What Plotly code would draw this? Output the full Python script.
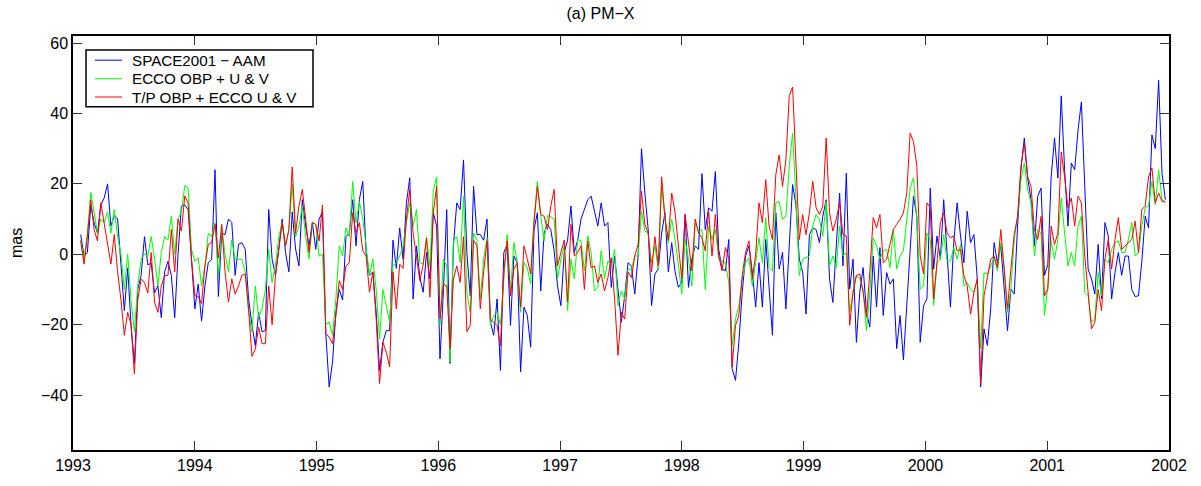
import plotly.graph_objects as go
import numpy as np

# ---- data (mas), 10-day samples from early 1993 to end of 2001 ----
start_year = 1993.063
end_year = 2001.97

space2001_aam = [
    5.6, -0.5, 0.5, 14, 9, 6, 14, 16, 20, 8, 11, 10, -3, -16, -4, -20, -31, -10, -6, 5, -3, -2.5, -11, -9, -18, -5, -2, -6, -18,
    0, 13.7, 14, 12.7, -1, -15.5, -8.5, -19, -9, -2.4, -1.5, 24, -12, 6, 5.6, 10, 9, -6, 2.8, 3.3, 1.4, -12.7, -20, -26, -16.5, -22, -21.7, 12.7, -1.4, -6, 1.5, 10, 0.5, -5, 12, 1.5, -3.3, 15.5, 8,
    2.4, 9, 1.4, 10, 12, -22.6, -37.7, -30.6, -16.5, -10, -13, 5, 6, 15.5, 2.4, 15.5, 20.7, 0.5, -6, -5, -16.5, -33, -25, -21.7, -21.7, 4, -4, 7.5, -1.4, 14.6, 21.7, -12.7,
    2.4, -6.6, -10.8, 0.5, -7, 11.8, 8, -29.7, -10.8, 12.7, -31, 2.4, 14.6, 12.7, 26.8, 0.5, -11.8, 19.3, 5.6, 5.6, 4, 10, -19.3, -23, -12.7, -33, 0.5, 2.8, -20.2, -0.5, -2.4, -33.4, -15, -17.4, -26.4, 7, 11.8, -10.4, 6, 8.5, 7, 1,
    -9, -14.6, 0.5, 4, 13.7, 0.5, 4, 10, 12.7, 15.5, 16.5, 11.8, 8, 14.6, 8, 9, -9.4, -0.5, -10.8, -19.3, -11.8, -2.4, -3.3, -11.3, -0.5, 30, 17.4, 7, -14.6, -5.6, -4.2, 6, 11.8, -5, 3.3, -5, -9.4,
    -8, 11.3, -9.4, -1.4, 2.4, 1.4, 22.9, 7, 13.2, 12.2, 23.5, 1.4, -4.2, -4.7, 4.2, -32.5, -35.8, -25, -10.8, -0.5, 2.4, -5, -15, -2.4, -15, 4.2, -10.8, -23, 11.8, -4.2, 0.5, -15.5, 2.4, 19.8, 14, -1.4, -5,
    -17, 5.6, 7.5, 7, 3.3, 10.8, 15.5, -7, -13.7, 2.4, 17.4, -3.3, 23, -9.9, -1.4, -25, -10.8, -3.8, -16.5, -20.7, -0.5, -15, 1.9, -17.4, -5.2, -8.5, -7, -26.8, -17.4, -30, -14.6, 1.4, 16.5, 10.8, -25, -14.6, -12.7,
    18.8, -4.2, 5.2, -1.4, 15.5, -1.4, -15, 3.3, 14.6, 5.2, -2.4, 12.2, 3.3, 5.6, -7, -37.7, -21.2, -25.9, -15.5, 3.3, -2.4, 2.4, -10.8, -21.7, -9.9, -11.3, 8, 24, 33, 21.7, 15.5, 2.4, 16.5, 18.8,
    -6, -3, 22, 33, 21.7, 45, 24, 8, 25.9, 24, 35.3, 43.3, 19.3, -4.2, -7, -11.3, 2.8, -12.7, 9, 5.2, -12.7, -5.2, 0.5, -6, -0.5, -0.5, -10, -12, -11.8, -2, 10.8, 7.5, 33.9, 30, 49.4, 23, 15.5,
]

ecco_obp_uv = [
    4, -1.4, 6, 17.6, 12, 6, 10, 9, 12, 6, 12.7, 5, 0, -10, 0, -13, -22, -9, -1.4, 0, -0.5, 5, -1.4, -9, 0.5, 5, 4, 10.8, 0,
    10, 12, 19.5, 18.8, 1.4, -2, -1, -9, -3.5, 6, 5, 9, -6, 7.5, 0, -5, 4, -1.4, -1.4, -1.4, -5, -16.5, -22, -9, -18, -15.5, -10, 1.4, -8, -3.3, 5, 9, 2.4, 7, 20, 5, 8, 13.7, 5,
    -1.4, 9, 8.5, -0.5, 0, -19.8, -19.3, -23, -12.7, 2.4, -0.5, 7.5, 5, 20.7, 9, 15, 10, 2.4, -6, -1.4, -10, -24, -10, -14.6, -19.3, -3.3, -2.4, -0.5, 2.4, 9, 14.6, 8,
    12.7, -2.4, -2.8, 4.7, -3.3, 17.9, 22, -20, -1.4, -3.3, -30.6, 3.8, 5, -2.4, 16.5, -10.8, -16.5, 6, 4, -12.7, -1.4, 4.7, -20, -17.4, -16.5, -20, -6, 5.6, -10.8, 3.3, -2.4, -16.5, -2.4, -3.8, -8.5, 10, 20.7, 10.8, 3.8, 11, 10.6, 10,
    -7, -1.4, 2.4, -16, -1.4, -7, 4.2, 3.8, -4.7, 5.2, 0.5, -10.4, -9.4, 1, -7, -1.9, -3.3, 1.4, -14.6, -10.4, -12.7, -4.2, -4.2, -0.5, -0.5, 12.2, 6.6, 6, -2.4, 2.4, -4.2, 19.3, 10, 3.3, 10, 4.2, -3,
    -11.3, 4.2, -1.4, -9, 9, 6.6, 7, -10, 8, 4.2, 7, -1.4, -1.9, -2.4, -8, -26, -18.4, -14.6, -7, -2.4, -1, -9, -2.4, 4.7, -2.4, 10.4, -3.8, -4.7, 14.6, 15, 9.9, 10.8, 25, 34.4, 16, -6, -1.4,
    -1, -0.5, 8, 11.3, 9.9, 5.2, 15, -3.3, -0.5, -3.8, 8, -0.5, 0.5, -16.5, -10.8, -6, -7, -10, -21.7, -10.8, 4.7, 2.4, -1.4, 1, 1.4, -3.8, 7, -4.2, -0.5, 1, 9.9, 18.8, 21.7, 9.9, -10, -9, 6,
    4.2, -14.6, -2.4, -1.4, 5.6, -1.9, -1.9, 1.9, -1.4, 2.8, -9, -8, -10, -10.8, -7, -26.8, -5.2, -5.6, -3.3, -1, -4.7, 3.3, -3.3, -16.5, -9.9, 4.2, 10.8, 21.2, 25.9, 18.4, 14.6, -0.5, 7, 6,
    -17.4, -9, 3.8, -1.4, 4.2, 16, 6, -3.3, 0.5, -3.3, 8, 10.8, -10.8, -11.8, -19.3, -18.4, -5.2, -11.8, -1.4, -2.4, 1.4, 3.3, 3.8, 0.5, 0.5, 4.2, 9, -0.5, 0.5, 8, 13.2, 13.7, 20.7, 14.1, 24, 15.5, 15,
]

tp_obp_ecco_uv = [
    3.8, -2.8, 5, 15.5, 7, 3.8, 14.6, 9, 3.3, -2.8, 5.6, -5, -13, -23, -16.5, -20, -34, -13, -7, -8, -11, 0.5, -13.6, -16.5, -9, -6, -6, 7, -5,
    10, 6.6, 16.5, 14.6, -1.4, -11.8, -12, -14, -3.3, 2.8, 3.3, 8.5, -1, 8.5, -5, -13.6, -7, -11.3, -9, -6, -5.6, -15.5, -29, -27, -20.7, -25.4, -25.4, -9, -20, -6, 2.4, 9, 2.4, 7, 24.8, 6, 13.7, 18.4, 10,
    0.5, 9, 8.5, 3.8, 14, -22.6, -23.5, -25.4, -17.4, -7.5, -10, -3.3, -2.4, 11.8, 6, 9, 1, -0.5, -10.8, -5, -18.4, -36.7, -25, -27.8, -32, -5, -15.5, -2.8, -4, 10, 18.4, 6,
    -1, -7.5, -3, 4.7, -12.2, 11.8, 19.3, -18.4, -8.5, -9, -26.8, -7, -3.3, -8, 5, -22, -20.2, 4, 2.4, -15.5, -5, 3.8, -18.4, -19.3, -20.2, -26, -5, 3.8, -11.8, -4.2, -2.5, -15, 2.4, -1.4, -5.6, 9, 19.3, 11.3, 10.8, 7, 13.7, 18.4,
    -3.3, 0.5, 4, -13.6, 8.5, -0.5, 0.5, 2.4, -10, 3.8, -3.8, -3.3, -8, -5.6, -10.4, -6.6, -1, -12.7, -28.7, -16.5, -18.4, -5, -6.6, -0.5, 2.8, 17.9, 8.5, 6, -5, 5, -3.3, 22, 10.4, 4, 17.4, 11.8, 1.4,
    -7, 11.3, 2.4, -4.7, 10, 6, 4.7, 1, 12.2, -0.5, 11.3, -0.5, -4.7, 1.9, -1, -32, -20.2, -17.4, -6, 0.5, 3.8, -7, 0, 14.6, 9, 21.2, 8, 4.2, 22.6, 28.2, 19.3, 26.8, 45, 47.5, 26, 4.2, 11.3,
    5.6, 11.8, 20.7, 13.2, 11.3, 13.7, 33, 11.8, 6.6, 9.9, 14.6, 5.6, 5.2, -20.2, -10.8, -6, -5.6, -10.8, -17.9, -5, 10.4, 7.5, 11.3, -2.4, -1.4, 2.8, 7, 8.5, 9.9, 11.8, 17.4, 34.4, 32, 25, -0.5, -5.6, 14.6,
    13.2, -12.7, -2.4, 9, 11.8, 6, 4.7, 5.2, 1, 1.4, -6, -9, -17, -10.8, -7, -36.7, -11.8, -7, -1.4, -0.5, -3.8, 7, -3.3, -15.5, -4.2, 5.6, 10.8, 25, 31.5, 22, 19.3, 7, 4.2, 10.8,
    -11.8, -10, 8, 2.8, 6, 29, 22, 13.2, 16, 8, 16.5, 14.6, -0.5, -10.8, -21.2, -19.3, -10, -16, -1.4, 4.2, -4.2, 4.2, 10.4, 1.4, 2.4, 3.3, 4.2, 9.4, 0.5, 12.7, 13.7, 22, 24.5, 14.6, 17.4, 15, 14.8,
]

year_ticks = [1993, 1994, 1995, 1996, 1997, 1998, 1999, 2000, 2001, 2002]
y_ticks = [-40, -20, 0, 20, 40, 60]

series_names = ["SPACE2001 \u2212 AAM", "ECCO OBP + U & V", "T/P OBP + ECCO U & V"]
series_values = [space2001_aam, ecco_obp_uv, tp_obp_ecco_uv]
series_colors = ["#0000ff", "#00ff00", "#ff0000"]

FONT = "Liberation Sans, Arial, Helvetica, sans-serif"
FS = 16
FS_LEG = 15.2

# ---- layout geometry (pixels) ----
W, H = 1201, 486
L, R, T, B = 73, 1169, 36, 452
PW, PH = R - L, B - T


def px(xp):
    return (xp - L) / PW


def py(yp):
    return 1 - (yp - T) / PH


fig = go.Figure()
for name, vals, color in zip(series_names, series_values, series_colors):
    t = np.linspace(start_year, end_year, len(vals))
    fig.add_trace(go.Scatter(x=t, y=vals, mode="lines", name=name,
                             line=dict(color=color, width=1), showlegend=False))

axis_common = dict(showline=True, linecolor="black", linewidth=1.5, mirror="ticks",
                   ticks="inside", ticklen=9, tickwidth=1.2, tickcolor="#333333",
                   showgrid=False, zeroline=False,
                   tickfont=dict(family=FONT, size=FS, color="black"))

# ---- hand-built legend box (matches the boxed MATLAB-style legend) ----
shapes = [dict(type="rect", xref="paper", yref="paper",
               x0=px(86), x1=px(313), y0=py(107), y1=py(50),
               line=dict(color="black", width=1.5), fillcolor="white", layer="above")]
annotations = []
row_y = [60.3, 79, 97.3]
for name, color, ry in zip(series_names, series_colors, row_y):
    shapes.append(dict(type="line", xref="paper", yref="paper",
                       x0=px(95), x1=px(122), y0=py(ry), y1=py(ry),
                       line=dict(color=color, width=1), layer="above"))
    annotations.append(dict(xref="paper", yref="paper", x=px(130), y=py(ry),
                            text=name, showarrow=False, xanchor="left", yanchor="middle",
                            font=dict(family=FONT, size=FS_LEG, color="black")))

annotations.append(dict(xref="paper", yref="paper", x=px(16), y=0.5, text="mas",
                        textangle=-90, showarrow=False, xanchor="center", yanchor="middle",
                        font=dict(family=FONT, size=FS, color="black")))

fig.update_layout(
    width=W, height=H,
    margin=dict(l=L, r=W - R, t=T, b=H - B),
    paper_bgcolor="white", plot_bgcolor="white",
    title=dict(text="(a) PM\u2212X", x=0.5, xanchor="center", y=1 - 13 / H, yanchor="middle",
               font=dict(family=FONT, size=FS, color="black")),
    xaxis=dict(range=[1993, 2002], tickvals=year_ticks,
               ticktext=[str(y) for y in year_ticks], **axis_common),
    yaxis=dict(range=[-55.6, 62], tickvals=y_ticks, **axis_common),
    shapes=shapes,
    annotations=annotations,
    showlegend=False,
)

# remove the browser's default 8px page margin so the figure sits at the window origin
fig.write_html("out.html", config={"displayModeBar": False},
               post_script="document.body.style.margin='0px';")
